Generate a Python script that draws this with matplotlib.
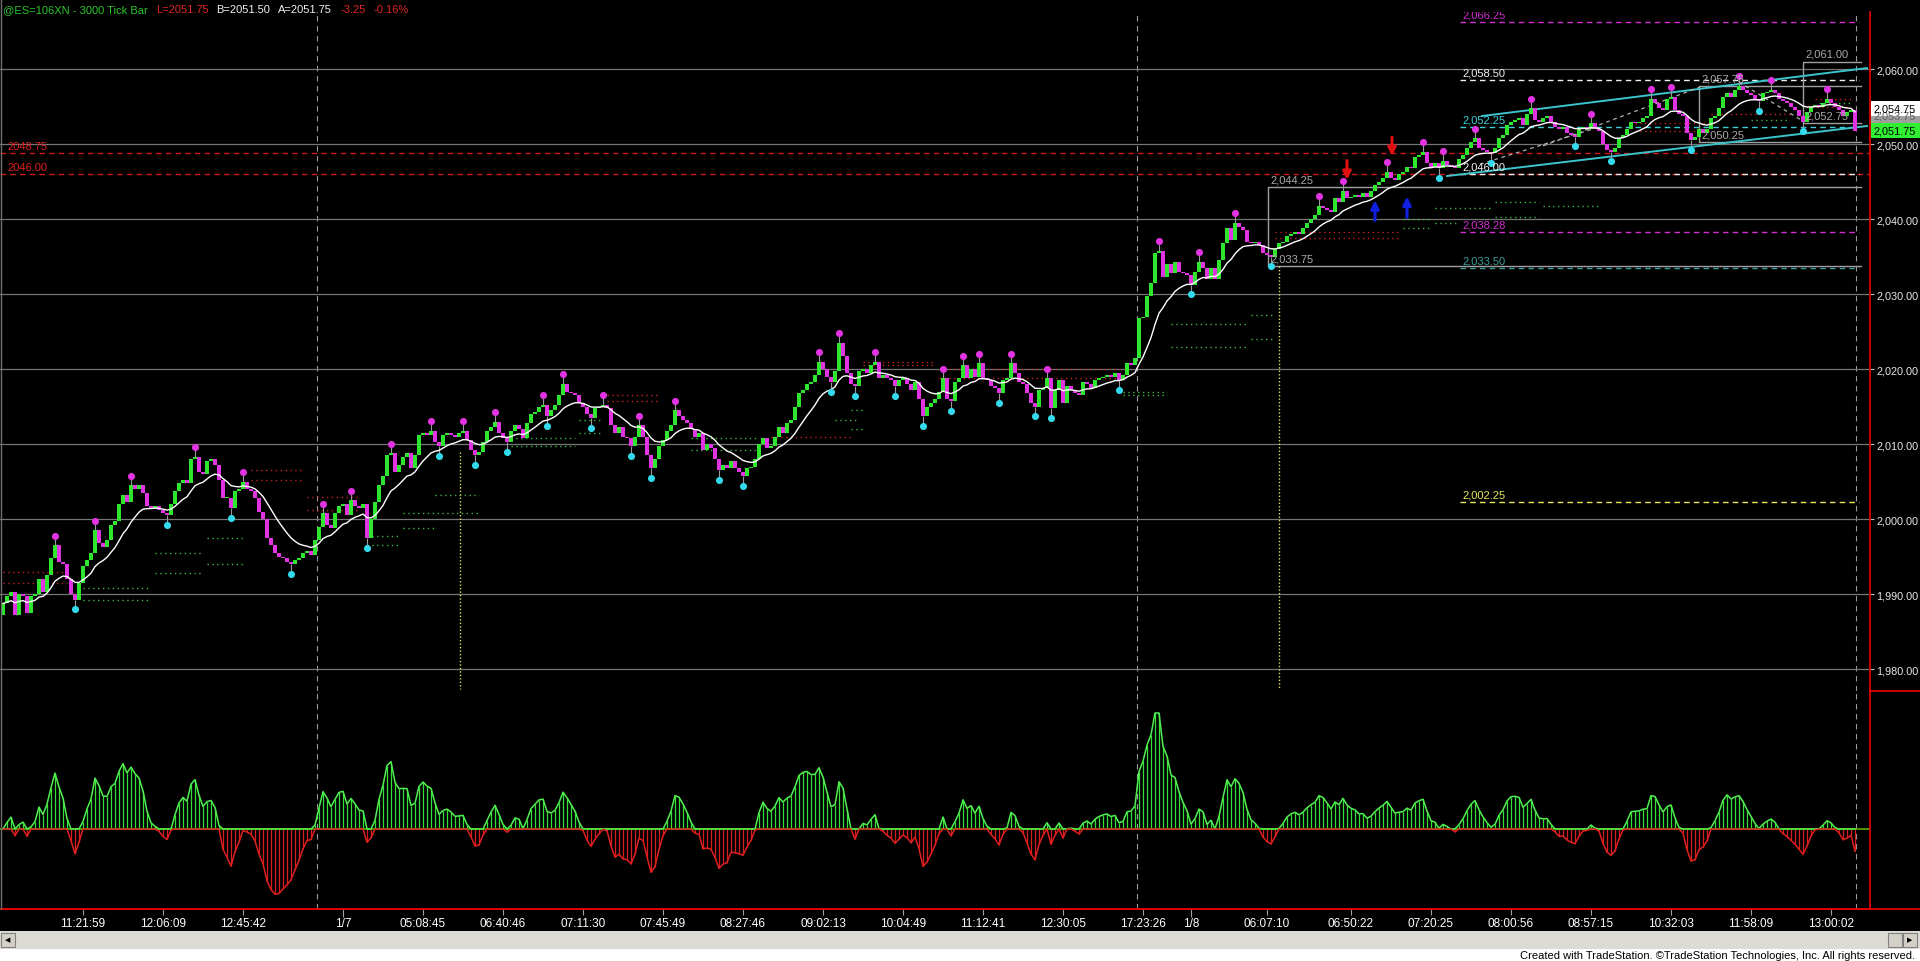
import numpy as np
import pandas as pd
import matplotlib
matplotlib.use("Agg")
import matplotlib.pyplot as plt
import matplotlib.transforms as mtrans
from matplotlib.patches import Rectangle
from matplotlib.lines import Line2D

plt.rcParams['font.family'] = ['Liberation Sans', 'DejaVu Sans']
NARROW = ['Liberation Sans Narrow', 'Liberation Sans', 'DejaVu Sans']

# ---- data (one close per 3000-tick bar) ----
first_open = 1987.25
closes = [
    # bars 0-119
    1988.75, 1989.75, 1990.25, 1987.25, 1990.0, 1989.75, 1987.5, 1989.75, 1990.0, 1992.0,
    1990.25, 1992.5, 1994.75, 1996.5, 1994.25, 1994.0, 1992.0, 1990.0, 1989.25, 1991.5,
    1993.75, 1994.5, 1995.5, 1998.5, 1996.75, 1996.25, 1997.25, 1999.25, 1999.75, 2002.0,
    2003.25, 2002.25, 2004.5, 2004.0, 2004.5, 2003.5, 2001.75, 2001.5, 2001.75, 2001.25,
    2000.75, 2000.5, 2002.0, 2003.75, 2004.75, 2005.25, 2004.75, 2008.0, 2008.25, 2006.25,
    2006.0, 2007.75, 2008.0, 2007.25, 2005.25, 2002.75, 2002.75, 2001.5, 2003.75, 2004.0,
    2005.0, 2004.0, 2003.75, 2002.75, 2001.0, 2000.0, 1997.5, 1996.5, 1995.5, 1995.0,
    1994.75, 1994.25, 1994.0, 1994.5, 1994.75, 1995.5, 1995.75, 1995.25, 1997.25, 1999.0,
    2000.75, 1999.25, 1998.75, 2000.75, 2001.75, 2002.0, 2000.5, 2002.5, 2001.75, 2001.5,
    2002.0, 1997.5, 2000.0, 2002.25, 2004.5, 2005.75, 2008.5, 2008.75, 2006.25, 2007.25,
    2008.25, 2008.75, 2006.75, 2008.5, 2011.25, 2011.5, 2011.25, 2011.75, 2010.25, 2009.75,
    2011.25, 2011.5, 2011.25, 2011.0, 2011.5, 2011.75, 2010.5, 2009.25, 2008.5, 2009.0,
    # bars 120-239
    2010.25, 2011.75, 2012.25, 2013.0, 2011.5, 2010.75, 2010.25, 2011.75, 2012.5, 2012.0,
    2010.75, 2012.75, 2014.0, 2014.25, 2015.0, 2015.25, 2013.75, 2014.5, 2015.25, 2016.5,
    2018.0, 2017.0, 2016.75, 2016.5, 2015.5, 2015.0, 2014.0, 2013.5, 2014.75, 2015.0,
    2015.25, 2014.75, 2012.5, 2011.5, 2012.25, 2011.0, 2010.75, 2009.75, 2011.0, 2012.5,
    2011.0, 2008.5, 2006.75, 2008.0, 2009.75, 2010.5, 2011.75, 2012.5, 2014.5, 2013.75,
    2013.25, 2012.75, 2012.0, 2011.0, 2011.5, 2009.25, 2010.0, 2009.5, 2008.0, 2006.5,
    2007.25, 2006.75, 2007.75, 2006.75, 2006.25, 2005.75, 2006.75, 2007.0, 2008.0, 2010.0,
    2010.75, 2009.5, 2009.75, 2011.0, 2012.25, 2011.5, 2012.75, 2013.25, 2015.0, 2016.75,
    2017.25, 2018.0, 2018.25, 2019.25, 2021.0, 2020.0, 2019.0, 2018.25, 2019.75, 2023.5,
    2021.75, 2019.5, 2018.0, 2017.75, 2019.75, 2020.0, 2019.5, 2020.5, 2021.0, 2018.75,
    2019.25, 2018.75, 2018.5, 2017.75, 2018.5, 2018.75, 2018.0, 2017.25, 2018.25, 2016.0,
    2013.75, 2015.0, 2015.5, 2016.0, 2017.0, 2018.75, 2016.0, 2015.75, 2018.25, 2018.75,
    # bars 240-359
    2020.5, 2018.75, 2020.0, 2019.0, 2020.75, 2018.75, 2018.5, 2017.75, 2017.5, 2016.75,
    2018.5, 2018.75, 2020.75, 2019.5, 2018.25, 2018.0, 2016.75, 2015.5, 2015.0, 2017.25,
    2017.5, 2018.75, 2014.75, 2017.25, 2018.5, 2015.5, 2017.75, 2017.25, 2016.75, 2016.5,
    2018.25, 2018.0, 2017.5, 2018.5, 2018.75, 2019.0, 2019.25, 2019.0, 2019.5, 2018.5,
    2019.25, 2020.75, 2020.5, 2021.5, 2026.75, 2027.0, 2029.75, 2031.5, 2035.5, 2035.75,
    2032.25, 2034.0, 2032.75, 2034.25, 2033.0, 2032.75, 2032.5, 2031.25, 2033.0, 2034.25,
    2033.5, 2032.0, 2033.5, 2032.0, 2034.5, 2036.75, 2038.75, 2037.25, 2039.5, 2039.0,
    2038.5, 2037.0, 2036.75, 2037.0, 2036.5, 2035.5, 2035.25, 2035.0, 2036.0, 2036.75,
    2037.0, 2037.75, 2038.0, 2038.25, 2038.0, 2038.75, 2039.5, 2040.0, 2040.5, 2041.75,
    2041.5, 2041.25, 2041.0, 2042.75, 2042.25, 2043.75, 2042.75, 2043.0, 2043.25, 2043.0,
    2043.5, 2043.0, 2043.75, 2044.5, 2045.0, 2045.5, 2046.25, 2045.5, 2045.25, 2046.0,
    2046.25, 2047.0, 2046.75, 2048.25, 2048.5, 2049.0, 2047.5, 2047.0, 2047.5, 2046.75,
    # bars 360-463
    2047.75, 2047.25, 2047.0, 2046.75, 2048.0, 2048.5, 2049.5, 2050.25, 2050.75, 2049.5,
    2049.25, 2049.0, 2048.75, 2049.5, 2050.75, 2051.25, 2052.5, 2053.0, 2053.25, 2053.5,
    2052.5, 2054.0, 2054.75, 2053.25, 2053.0, 2053.5, 2053.75, 2053.0, 2052.25, 2052.0,
    2052.25, 2051.5, 2051.25, 2051.0, 2052.0, 2052.25, 2052.0, 2052.75, 2052.0, 2051.75,
    2050.0, 2049.25, 2049.0, 2049.5, 2050.75, 2051.25, 2052.0, 2053.0, 2052.75, 2053.0,
    2053.5, 2053.75, 2056.0, 2055.5, 2054.75, 2054.5, 2056.0, 2056.25, 2054.5, 2054.0,
    2053.75, 2051.5, 2050.5, 2051.0, 2052.0, 2051.5, 2052.0, 2053.5, 2053.75, 2054.75,
    2056.25, 2056.75, 2056.25, 2057.25, 2057.75, 2057.25, 2056.75, 2056.5, 2056.0, 2055.75,
    2056.75, 2057.0, 2057.25, 2056.75, 2056.0, 2055.75, 2055.5, 2055.0, 2054.5, 2053.75,
    2053.0, 2054.25, 2055.0, 2055.25, 2055.0, 2055.5, 2056.0, 2055.5, 2055.0, 2054.5,
    2053.75, 2054.25, 2054.5, 2051.75,
]

price_ticks = [1980, 1990, 2000, 2010, 2020, 2030, 2040, 2050, 2060]
time_labels = ['11:21:59', '12:06:09', '12:45:42', '1/7', '05:08:45', '06:40:46', '07:11:30',
               '07:45:49', '08:27:46', '09:02:13', '10:04:49', '11:12:41', '12:30:05', '17:23:26',
               '1/8', '06:07:10', '06:50:22', '07:20:25', '08:00:56', '08:57:15', '10:32:03',
               '11:58:09', '13:00:02']
time_bars = [20, 40, 60, 85, 105, 125, 145, 165, 185, 205, 225, 245, 265, 285,
             297, 316, 337, 357, 377, 397, 417, 437, 457]
session_breaks = [78.5, 283.5]

# header pieces
header_texts = ['@ES=106XN - 3000 Tick Bar', 'L=2051.75', 'B=2051.50', 'A=2051.75', '-3.25', '-0.16%']
header_kinds = ['green', 'red', 'white', 'white', 'red', 'red']

# horizontal levels drawn from the right-hand study
level_prices = [2066.25, 2058.50, 2052.25, 2046.00, 2038.28, 2033.50, 2002.25]
level_kinds = ['magenta', 'white', 'cyan', 'white', 'magenta', 'teal', 'yellow']
level_from_bar = 364.25
red_levels = [2048.75, 2046.00]

# boxes: top, bottom, first bar
box_tops = [2044.25, 2057.75, 2061.00]
box_bottoms = [2033.75, 2050.25, 2052.75]
box_from = [316.25, 424.0, 450.0]

# regression channel (bar, price) end points
chan_upper = [(369.75, 2053.73), (466.0, 2060.13)]
chan_lower = [(361.0, 2045.73), (466.0, 2052.40)]
trend_lines = [[(369.25, 2047.3), (399.25, 2052.3)],
               [(385.0, 2049.75), (424.25, 2057.6)],
               [(434.0, 2058.25), (450.0, 2053.05)]]

# dotted support / resistance stubs
seg_price = [1993.0, 1991.5, 1990.75, 1989.25, 1997.5, 1995.5, 1994.0, 1992.75, 2006.5, 2005.25,
             2003.0, 2001.25, 1997.75, 1996.5, 2003.25, 2000.75, 1998.75, 2013.25, 2011.5, 2010.75,
             2009.75, 2016.5, 2015.75, 2010.75, 2009.25, 2021.0, 2020.5, 2011.0, 2014.5, 2013.25,
             2012.0, 2020.0, 2018.75, 2017.0, 2016.5, 2026.0, 2023.0, 2027.25, 2024.0, 2038.25,
             2037.5, 2040.0, 2038.75, 2042.25, 2041.75, 2041.5, 2040.25, 2039.5, 2056.0, 2055.0,
             2055.5, 2054.0, 2053.25, 2052.75, 2051.75]
seg_start = [0, 0, 20, 20, 51, 38, 51, 38, 62, 62,
             76, 76, 91, 91, 108, 100, 100, 144, 144, 127,
             127, 151, 151, 172, 172, 215, 215, 192, 212, 208,
             212, 234, 234, 280, 280, 292, 292, 312, 312, 318,
             318, 350, 350, 373, 385, 358, 373, 358, 453, 451,
             454, 427, 437, 408, 408]
seg_end = [16, 16, 37, 37, 60, 50, 60, 50, 75, 75,
           89, 89, 99, 99, 119, 119, 108, 150, 150, 143,
           143, 164, 164, 189, 189, 233, 233, 212, 215, 214,
           215, 281, 281, 291, 291, 311, 311, 318, 318, 349,
           349, 357, 357, 384, 399, 372, 384, 364, 462, 462,
           462, 447, 446, 427, 427]
seg_kind = ['r', 'r', 'g', 'g', 'g', 'g', 'g', 'g', 'r', 'r',
            'r', 'r', 'g', 'g', 'g', 'g', 'g', 'g', 'g', 'g',
            'g', 'r', 'r', 'g', 'g', 'r', 'r', 'r', 'g', 'g',
            'g', 'r', 'r', 'g', 'g', 'g', 'g', 'g', 'g', 'r',
            'r', 'g', 'g', 'g', 'g', 'g', 'g', 'g', 'r', 'r',
            'g', 'r', 'g', 'r', 'r']

# signal arrows (bar, tail price, tip price)
down_arrows = [(336.0, 2047.8, 2045.2), (347.25, 2050.9, 2048.4)]
up_arrows = [(343.0, 2039.8, 2042.5), (351.0, 2040.2, 2043.0)]
yellow_verticals = [(114.25, 2008.9), (319.0, 2033.75)]

# ---- colours ----
UP = '#2de62d'
DOWN = '#e233e2'
CYAN = '#33d9ec'
GRID = '#767676'
GREYTXT = '#a9a9a9'
RED = '#e00000'
kind_color = {'magenta': '#d22cd2', 'white': '#f0f0f0', 'cyan': '#3ccfd8',
              'teal': '#3a9c9c', 'yellow': '#e8e85a', 'green': '#2cc42c', 'red': '#e02424'}

W, H = 1920, 962
def fx(px):
    return px / W
def fy(py):
    return 1 - py / H

n = len(closes)
x = np.arange(n)
c = np.array(closes)
o = np.array([first_open] + closes[:-1])
hi = np.maximum(o, c)
lo = np.minimum(o, c)

fig = plt.figure(figsize=(19.2, 9.62), dpi=100, facecolor='black')
ax = fig.add_axes([0, fy(692), fx(1870), (692 - 13) / H])
ax2 = fig.add_axes([0, fy(910), fx(1870), (910 - 692) / H])
for a in (ax, ax2):
    a.set_facecolor('black')
    a.set_xlim(-0.75, 466.75)
    for s in ('top', 'left', 'bottom'):
        a.spines[s].set_visible(False)
    a.spines['right'].set_color(RED)
    a.spines['right'].set_linewidth(1.3)
    for b in session_breaks + [n - 0.75]:
        a.axvline(b, color='#9a9a9a', lw=0.8, ls=(0, (5, 4)), zorder=1)

ax.set_ylim(1977.07, 2067.6)
for p in price_ticks:
    ax.axhline(p, color=GRID, lw=0.9, zorder=1)
ax.yaxis.tick_right()
ax.set_yticks(price_ticks)
ax.set_yticklabels([f'{p:,.2f}' for p in price_ticks])
ax.tick_params(axis='y', color='#c0c0c0', labelcolor='#e8e8e8', labelsize=7.8, length=3, pad=1.5)
ax.set_xticks([])

# red levels across the whole chart
for p in red_levels:
    ax.axhline(p, color='#d01818', lw=1.0, ls=(0, (4, 3)), zorder=2)
    ax.text(1, p + 0.3, f'{p:.2f}', color='#e02020', fontsize=8, va='bottom', ha='left')

# right-hand study levels
for p, k in zip(level_prices, level_kinds):
    ax.plot([level_from_bar, n], [p, p], color=kind_color[k], lw=1.0, ls=(0, (4, 3)), zorder=2)
    ax.text(level_from_bar + 0.5, p + 0.35, f'{p:,.2f}', color=kind_color[k], fontsize=8,
            va='bottom', ha='left', zorder=7, clip_on=True)

# boxes
for t, btm, b0 in zip(box_tops, box_bottoms, box_from):
    ax.plot([n + 0.5, b0, b0, n + 0.5], [t, t, btm, btm], color='#a0a0a0', lw=1.0, zorder=2)
    ax.text(b0 + 0.5, t + 0.35, f'{t:,.2f}', color=GREYTXT, fontsize=8, va='bottom', zorder=7)
    ax.text(b0 + 0.5, btm + 0.35, f'{btm:,.2f}', color=GREYTXT, fontsize=8, va='bottom', zorder=7)

# channel and trend lines
for line in (chan_upper, chan_lower):
    ax.plot([line[0][0], line[1][0]], [line[0][1], line[1][1]], color='#3cc4cc', lw=1.4, zorder=3)
for tl in trend_lines:
    ax.plot([tl[0][0], tl[1][0]], [tl[0][1], tl[1][1]], color='#b0b0b0', lw=0.9,
            ls=(0, (3, 3)), zorder=3)

# dotted stubs
for p, s0, s1, k in zip(seg_price, seg_start, seg_end, seg_kind):
    ax.plot([s0, s1], [p, p], color='#3fb83f' if k == 'g' else '#c42222', lw=1.0,
            ls=(0, (1, 2.5)), zorder=2)

# yellow verticals
for b, top in yellow_verticals:
    ax.plot([b, b], [top, 1977.4], color='#e0e060', lw=1.0, ls=(0, (1, 1.5)), zorder=2)

# candles
colors = [UP if cc >= oo else DOWN for oo, cc in zip(o, c)]
ax.bar(x, np.maximum(hi - lo, 0.25), bottom=lo, width=0.8, color=colors, linewidth=0, zorder=4)

# moving average
ema = pd.Series(c).ewm(span=12, adjust=False).mean().values
ax.plot(x, ema, color='white', lw=1.0, zorder=5)

# swing highs / lows
k = 3
ph, pl = [], []
for i in range(k, n - 1):
    left_h, right_h = hi[i - k:i], hi[i + 1:i + k + 1]
    left_l, right_l = lo[i - k:i], lo[i + 1:i + k + 1]
    if hi[i] > left_h.max() and hi[i] >= right_h.max():
        ph.append(i)
    if lo[i] < left_l.min() and lo[i] <= right_l.min():
        pl.append(i)
ph, pl = np.array(ph), np.array(pl)
ax.vlines(ph, hi[ph], hi[ph] + 1.3, color='#9a9a9a', lw=0.8, zorder=3)
ax.vlines(pl, lo[pl] - 1.3, lo[pl], color='#9a9a9a', lw=0.8, zorder=3)
ax.scatter(ph, hi[ph] + 1.3, s=26, color=DOWN, zorder=6, linewidths=0)
ax.scatter(pl, lo[pl] - 1.3, s=26, color=CYAN, zorder=6, linewidths=0)

# arrows
for b, tail, tip in down_arrows:
    ax.annotate('', xy=(b, tip), xytext=(b, tail),
                arrowprops=dict(arrowstyle='-|>', color='#e01010', lw=2.2, mutation_scale=12,
                                shrinkA=0, shrinkB=0))
for b, tail, tip in up_arrows:
    ax.annotate('', xy=(b, tip), xytext=(b, tail),
                arrowprops=dict(arrowstyle='-|>', color='#1020e0', lw=2.2, mutation_scale=12,
                                shrinkA=0, shrinkB=0))

# current price boxes on the axis
trans = mtrans.blended_transform_factory(fig.transFigure, ax.transData)
for price, face, tcol in [(2053.75, '#a0a0a0', '#606060'), (2054.75, '#ffffff', 'black'),
                          (2051.75, '#30ee30', 'black')]:
    fig.add_artist(Rectangle((fx(1871), price - 1.0), fx(49), 2.0, transform=trans,
                             facecolor=face, edgecolor='none', zorder=5))
    fig.text(fx(1874), price, f'{price:,.2f}', transform=trans, color=tcol, fontsize=7.8,
             va='center', ha='left', zorder=6)

# oscillator
s = pd.Series(c)
osc = (s.ewm(span=3, adjust=False).mean() - s.ewm(span=10, adjust=False).mean()).values
ocol = ['#36e036' if v >= 0 else '#d81c1c' for v in osc]
ax2.vlines(x, 0, osc, colors=ocol, lw=0.9, zorder=3)
ax2.plot(x, np.where(osc >= 0, osc, 0), color='#50f050', lw=1.1, zorder=4)
ax2.plot(x, np.where(osc < 0, osc, 0), color='#e02020', lw=1.1, zorder=4)
ax2.axhline(0, color='#58b000', lw=1.2, zorder=2)
top = osc.max() * 138 / 116
ax2.set_ylim(-top * 80 / 138, top)
ax2.set_yticks([])
ax2.spines['bottom'].set_visible(True)
ax2.spines['bottom'].set_color(RED)
ax2.spines['bottom'].set_linewidth(1.3)
ax2.set_xticks(time_bars)
ax2.set_xticklabels(time_labels)
ax2.tick_params(axis='x', color='#a0a0a0', labelcolor='white', labelsize=8.5, length=4, pad=2)
for lbl in ax2.get_xticklabels():
    lbl.set_fontfamily(NARROW)
for tk, lab in zip(ax2.xaxis.get_major_ticks(), time_labels):
    if '/' in lab:
        tk.tick1line.set_color(RED)
        tk.tick1line.set_markersize(6)

# frame pieces outside the axes
fig.add_artist(Line2D([0, 1], [fy(910), fy(910)], color=RED, lw=1.3))
fig.add_artist(Line2D([fx(1870), 1], [fy(692), fy(692)], color=RED, lw=1.3))
fig.add_artist(Line2D([fx(1), fx(1)], [fy(910), 1], color='#707070', lw=1.0))

# header, laid out piece after piece
renderer = fig.canvas.get_renderer()
px = 3
for txt, kind in zip(header_texts, header_kinds):
    t = fig.text(fx(px), fy(10), txt, color=kind_color[kind], fontsize=8, va='center', ha='left')
    px += t.get_window_extent(renderer).width + 8

# scrollbar and footer strip
fig.add_artist(Rectangle((0, fy(950)), 1, 18 / H, transform=fig.transFigure,
                         facecolor='#dcdad4', edgecolor='none'))
fig.add_artist(Rectangle((0, 0), 1, fy(950), transform=fig.transFigure,
                         facecolor='white', edgecolor='none'))
for bx in (1, 1888, 1903):
    fig.add_artist(Rectangle((fx(bx), fy(948)), fx(14), 14 / H, transform=fig.transFigure,
                             facecolor='#d4d0c8', edgecolor='#808080', lw=0.8))
fig.text(fx(8), fy(941), '\u25c0', fontsize=5, color='black', ha='center', va='center')
fig.text(fx(1910), fy(941), '\u25b6', fontsize=5, color='black', ha='center', va='center')
fig.text(fx(1915), fy(956),
         'Created with TradeStation. \u00a9TradeStation Technologies, Inc. All rights reserved.',
         color='black', fontsize=8, ha='right', va='center', family=NARROW)

fig.savefig('out.png', dpi=100, facecolor='black')
